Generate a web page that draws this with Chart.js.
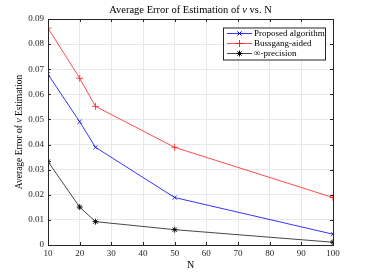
<!DOCTYPE html>
<html>
<head>
<meta charset="utf-8">
<script src="https://cdn.jsdelivr.net/npm/chart.js@4.4.1/dist/chart.umd.min.js"></script>
<style>
  html, body { margin: 0; padding: 0; background: #fff; }
  #wrap { width: 368px; height: 276px; }
</style>
</head>
<body>
<div id="wrap"><canvas id="errChart" width="368" height="276"></canvas></div>
<script>
// values
const nValues = [10, 20, 25, 50, 100];
const proposed = [0.068, 0.0491, 0.0389, 0.0189, 0.0043];
const bussgang = [0.0864, 0.0664, 0.0552, 0.0389, 0.0189];
const infPrecision = [0.0332, 0.0151, 0.0093, 0.0061, 0.0011];
const seriesNames = ['Proposed algorithm', 'Bussgang-aided', '\u221E-precision'];

const serif = "'Liberation Serif', 'DejaVu Serif', serif";

function toPoints(ys) {
  return nValues.map((n, i) => ({ x: n, y: ys[i] }));
}

// draws text pieces in a row, second item of each piece = italic
function drawPieces(ctx, pieces, size, cx, cy) {
  const fonts = pieces.map(p => (p[1] ? 'italic ' : '') + size + 'px ' + serif);
  let total = 0;
  const widths = pieces.map((p, i) => { ctx.font = fonts[i]; const w = ctx.measureText(p[0]).width; total += w; return w; });
  let x = cx - total / 2;
  ctx.textAlign = 'left';
  ctx.textBaseline = 'middle';
  pieces.forEach((p, i) => { ctx.font = fonts[i]; ctx.fillText(p[0], x, cy); x += widths[i]; });
}

// title + y axis title with italic nu
const titles = {
  id: 'titles',
  afterDraw(chart) {
    const { ctx, chartArea: a } = chart;
    ctx.save();
    ctx.fillStyle = '#000';
    drawPieces(ctx, [['Average Error of Estimation of ', false], ['\u03BD', true], [' vs. N', false]],
      10.5, (a.left + a.right) / 2, 10);
    ctx.translate(19, (a.top + a.bottom) / 2);
    ctx.rotate(-Math.PI / 2);
    drawPieces(ctx, [['Average Error of ', false], ['\u03BD', true], [' Estimation', false]], 9.5, 0, 0);
    ctx.restore();
  }
};

// matlab style box + inward ticks
const boxPlugin = {
  id: 'boxPlugin',
  afterDraw(chart) {
    const { ctx, chartArea: a, scales } = chart;
    ctx.save();
    ctx.strokeStyle = '#262626';
    ctx.lineWidth = 1;
    ctx.strokeRect(Math.round(a.left) + 0.5, Math.round(a.top) + 0.5,
      Math.round(a.right - a.left), Math.round(a.bottom - a.top));
    ctx.beginPath();
    scales.x.ticks.forEach(t => {
      const px = Math.round(scales.x.getPixelForValue(t.value)) + 0.5;
      ctx.moveTo(px, a.bottom); ctx.lineTo(px, a.bottom - 3);
      ctx.moveTo(px, a.top); ctx.lineTo(px, a.top + 3);
    });
    scales.y.ticks.forEach(t => {
      const py = Math.round(scales.y.getPixelForValue(t.value)) + 0.5;
      ctx.moveTo(a.left, py); ctx.lineTo(a.left + 3, py);
      ctx.moveTo(a.right, py); ctx.lineTo(a.right - 3, py);
    });
    ctx.stroke();
    ctx.restore();
  }
};

// legend box in the upper right, like matlab's northeast legend
const legendBox = {
  id: 'legendBox',
  afterDraw(chart) {
    const { ctx, chartArea: a } = chart;
    const w = 102, rowH = 10;
    const x0 = a.right - 8 - w, y0 = a.top + 8.5;
    const h = rowH * chart.data.datasets.length + 2;
    ctx.save();
    ctx.fillStyle = '#fff';
    ctx.fillRect(x0, y0, w, h);
    ctx.strokeStyle = '#262626';
    ctx.lineWidth = 1;
    ctx.strokeRect(x0 + 0.5, y0 + 0.5, w, h);
    ctx.font = '9px ' + serif;
    ctx.textBaseline = 'middle';
    chart.data.datasets.forEach((ds, i) => {
      const y = y0 + 6 + i * rowH;
      ctx.strokeStyle = ds.borderColor;
      ctx.lineWidth = ds.borderWidth;
      ctx.beginPath();
      ctx.moveTo(x0 + 4, y); ctx.lineTo(x0 + 29, y);
      ctx.stroke();
      ctx.strokeStyle = ds.pointBorderColor;
      ctx.fillStyle = ds.pointBorderColor;
      ctx.lineWidth = 1;
      Chart.helpers.drawPoint(ctx, {
        pointStyle: ds.pointStyle, radius: ds.pointRadius,
        borderWidth: 1, rotation: 0
      }, x0 + 16.5, y);
      ctx.fillStyle = '#000';
      ctx.fillText(ds.label, x0 + 31, y + 0.5);
    });
    ctx.restore();
  }
};

const ctx = document.getElementById('errChart').getContext('2d');
const errChart = new Chart(ctx, {
  type: 'line',
  data: {
    datasets: [{
      label: seriesNames[0],
      data: toPoints(proposed),
      borderColor: '#0000ff',
      pointStyle: 'crossRot',
      pointRadius: 3,
      pointBorderColor: '#0000ff',
      borderWidth: 0.8
    }, {
      label: seriesNames[1],
      data: toPoints(bussgang),
      borderColor: '#ff2020',
      pointStyle: 'cross',
      pointRadius: 3.5,
      pointBorderColor: '#ff2020',
      borderWidth: 0.8
    }, {
      label: seriesNames[2],
      data: toPoints(infPrecision),
      borderColor: '#333333',
      pointStyle: 'star',
      pointRadius: 3,
      pointBorderColor: '#000',
      borderWidth: 0.9
    }]
  },
  options: {
    responsive: false,
    animation: false,
    layout: { padding: { left: 13, right: 35, top: 19, bottom: 5 } },
    plugins: {
      legend: { display: false },
      tooltip: { enabled: false },
      title: { display: false }
    },
    scales: {
      x: {
        type: 'linear',
        min: 10,
        max: 100,
        ticks: { stepSize: 10, color: '#262626', font: { family: serif, size: 9 }, padding: 3 },
        grid: { color: '#e8e8e8', drawTicks: false },
        border: { display: false },
        title: { display: true, text: 'N', color: '#000', font: { family: serif, size: 10 }, padding: { top: 1, bottom: 0 } },
        afterFit(scale) { scale.height = 26; }
      },
      y: {
        min: 0,
        max: 0.09,
        ticks: {
          stepSize: 0.01,
          color: '#262626',
          font: { family: serif, size: 9 },
          padding: 4,
          callback: v => (Math.abs(v) < 1e-9 ? '0' : v.toFixed(2))
        },
        grid: { color: '#e8e8e8', drawTicks: false },
        border: { display: false },
        afterFit(scale) { scale.width = 35; }
      }
    }
  },
  plugins: [boxPlugin, legendBox, titles]
});
</script>
</body>
</html>
